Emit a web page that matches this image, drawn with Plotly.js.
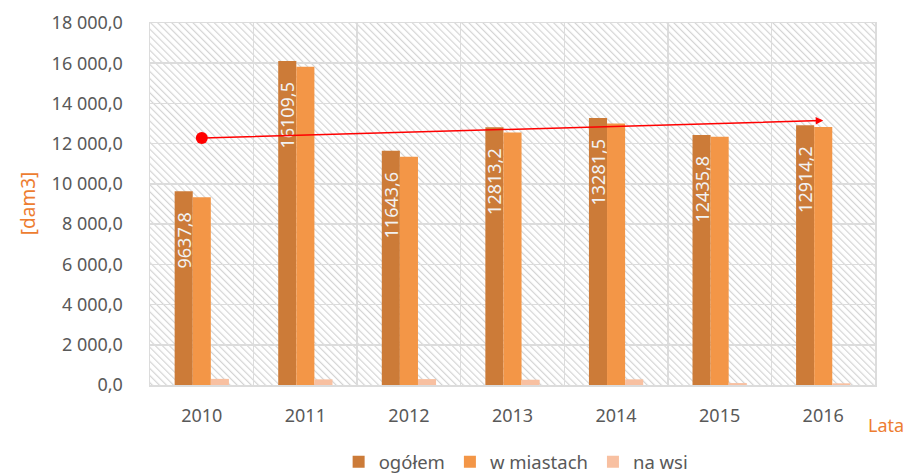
<!DOCTYPE html>
<html>
<head>
<meta charset="utf-8">
<script src="https://cdn.plot.ly/plotly-3.0.1.min.js"></script>
<style>
  body { margin: 0; background: #fff; }
  #chart { width: 906px; height: 476px; }
</style>
</head>
<body>
<div id="chart"></div>
<script>
// lata
var years = ["2010", "2011", "2012", "2013", "2014", "2015", "2016"];

// [dam3]
var ogolem    = [9637.8, 16109.5, 11643.6, 12813.2, 13281.5, 12435.8, 12914.2];
var wMiastach = [9330, 15830, 11350, 12550, 13000, 12340, 12830];
var naWsi     = [305, 280, 294, 263, 282, 96, 84];

// strzalka trendu (poczatek / koniec)
var trendYears  = ["2010", "2016"];
var trendValues = [12280, 13150];

var fam = "Noto Sans, Open Sans, sans-serif";
var tickFont = {family: fam, size: 18, color: "#595959"};
var orange = "#ED7D31";

// szrafowanie tla (ukosne linie)
var hatchSvg = "<svg xmlns='http://www.w3.org/2000/svg' width='725' height='362'>" +
  "<defs><pattern id='h' patternUnits='userSpaceOnUse' width='5' height='5' patternTransform='rotate(-45)'>" +
  "<rect x='0' y='0' width='1.2' height='5' fill='#D4D4D4'/></pattern></defs>" +
  "<rect width='100%' height='100%' fill='url(#h)'/></svg>";

var data = [
  {
    type: "bar", name: "ogółem", x: years, y: ogolem,
    marker: {color: "#CC7B38"},
    texttemplate: "%{y:.1f}\u2002\u2002", textposition: "inside", insidetextanchor: "end",
    textangle: -90, constraintext: "none",
    textfont: {family: fam, size: 18, color: "#F2F2F2"},
    hoverinfo: "skip"
  },
  {
    type: "bar", name: "w miastach", x: years, y: wMiastach,
    marker: {color: "#F39647"}, hoverinfo: "skip"
  },
  {
    type: "bar", name: "na wsi", x: years, y: naWsi,
    marker: {color: "#F8C0A1"}, hoverinfo: "skip"
  },
  {
    type: "scatter", mode: "markers", x: [trendYears[0]], y: [trendValues[0]],
    marker: {color: "#FF0000", size: 12}, showlegend: false, hoverinfo: "skip"
  }
];

var layout = {
  width: 906, height: 476,
  margin: {l: 150, r: 31, t: 23, b: 91},
  paper_bgcolor: "#fff",
  plot_bgcolor: "#fff",
  separators: ", ",
  font: tickFont,
  barmode: "group",
  bargap: 0.476,
  bargroupgap: 0,
  showlegend: true,
  legend: {
    orientation: "h", x: 0.505, xanchor: "center",
    yref: "container", y: 0.029, yanchor: "middle",
    font: {family: fam, size: 18.5, color: "#595959"}, itemwidth: 30, traceorder: "normal"
  },
  xaxis: {
    type: "category", categoryorder: "array", categoryarray: years,
    tickson: "boundaries", showgrid: true,
    gridcolor: "#DCDCDC", gridwidth: 1.5,
    showline: true, linecolor: "#DCDCDC", linewidth: 1.5, mirror: true,
    ticks: "", tickfont: tickFont, tickangle: 0, ticklabelstandoff: 14, zeroline: false
  },
  yaxis: {
    range: [0, 18000], dtick: 2000, tickformat: ",.1f",
    showgrid: true, gridcolor: "#DCDCDC", gridwidth: 1.5,
    showline: true, linecolor: "#DCDCDC", linewidth: 1.5, mirror: true,
    ticks: "", tickfont: tickFont, ticklabelstandoff: 22, zeroline: false
  },
  images: [{
    source: "data:image/svg+xml;charset=utf-8," + encodeURIComponent(hatchSvg),
    xref: "paper", yref: "paper", x: 0, y: 1, sizex: 1, sizey: 1,
    xanchor: "left", yanchor: "top", sizing: "stretch", layer: "below"
  }],
  annotations: [
    {
      x: years.indexOf(trendYears[1]), y: trendValues[1], xref: "x", yref: "y",
      ax: years.indexOf(trendYears[0]), ay: trendValues[0], axref: "x", ayref: "y",
      showarrow: true, arrowhead: 2, arrowsize: 1, arrowwidth: 1.5,
      arrowcolor: "#FF0000", text: ""
    },
    {
      text: "[dam3]", xref: "paper", yref: "paper", x: -0.168, y: 0.5,
      xanchor: "center", yanchor: "middle", textangle: -90, showarrow: false,
      font: {family: fam, size: 19, color: orange}
    },
    {
      text: "Lata", xref: "paper", yref: "paper", x: 0.988, y: -0.11,
      xanchor: "left", yanchor: "middle", showarrow: false,
      font: {family: fam, size: 18, color: orange}
    }
  ]
};

Plotly.newPlot("chart", data, layout, {displayModeBar: false, staticPlot: true});
</script>
</body>
</html>
